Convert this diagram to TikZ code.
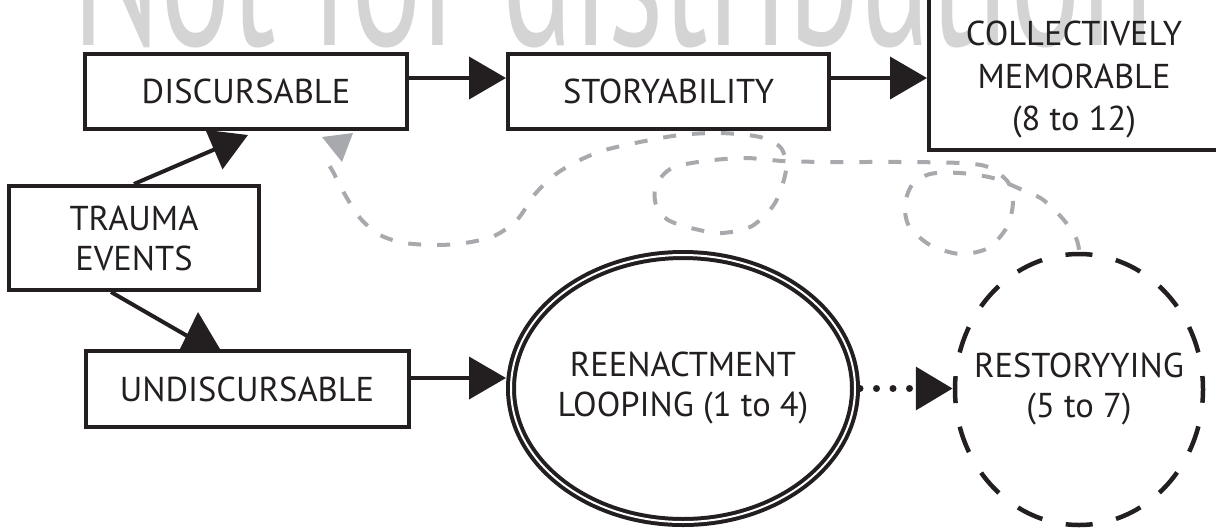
\documentclass[tikz,border=0pt]{standalone}
\usepackage{graphicx}
\usepackage{fontspec}
\setmainfont{PT Sans}
\usetikzlibrary{arrows.meta,shapes.geometric}
\definecolor{ink}{HTML}{231F20}
\definecolor{curvegray}{HTML}{A7A9AC}
\definecolor{wmgray}{HTML}{D4D4D4}
\newcommand\labfont{\fontsize{34.5}{40}\selectfont}
\newcommand\collfont{\fontsize{34.5}{42.5}\selectfont}
\newcommand\zw[1]{\makebox[0pt]{#1}}
\begin{document}
\begin{tikzpicture}[x=1pt,y=-1pt,
  stepbox/.style={draw=ink, line width=4pt, rectangle, inner sep=0pt, align=center, text=ink, font=\labfont},
  loopnode/.style={draw=ink, ellipse, line width=4pt, double=white, double distance=2pt, outer sep=5pt, inner sep=0pt, align=center, text=ink, font=\labfont},
  restnode/.style={draw=ink, ellipse, line width=4.5pt, dash pattern=on 27pt off 24pt, dash phase=13.5pt, inner sep=0pt, align=center, text=ink, font=\labfont},
  flow/.style={draw=ink, line width=4pt, -{Triangle[length=37pt,width=42pt]}},
  dotflow/.style={draw=ink, line width=7pt, line cap=round, dash pattern=on 0pt off 16.5pt, -{Triangle[length=37pt,width=42pt]}},
  backflow/.style={draw=curvegray, line width=4pt, dash pattern=on 13pt off 16pt},
  labeltext/.style={font=\collfont, text=ink, align=center, inner sep=0pt},
]
\useasboundingbox (0,0) rectangle (1216,531);
\clip (0,0) rectangle (1216,531);
% watermark
\node[anchor=base west, inner sep=0pt, text=wmgray] (wm) at (72,45) {\resizebox{1080pt}{150pt}{Not for distribution}};

% nodes
\node[stepbox, minimum width=322pt, minimum height=75pt] (disc) at (246,91.5) {DISCURSABLE};
\node[stepbox, minimum width=321pt, minimum height=75pt] (story) at (668.5,91.5) {STORYABILITY};
\node[stepbox, minimum width=250pt, minimum height=104pt] (trauma) at (134,238) {TRAUMA\\EVENTS};
\node[stepbox, minimum width=323pt, minimum height=76pt] (undisc) at (247,389) {UNDISCURSABLE};
\node[loopnode, minimum width=344pt, minimum height=267pt] (reen) at (683,388.5) {\zw{REENACTMENT}\\\zw{LOOPING (1 to 4)}};
\node[restnode, minimum width=248pt, minimum height=271pt] (rest) at (1079,389.5) {\zw{RESTORYYING}\\\zw{(5 to 7)}};
\node[draw=ink, line width=4pt, rectangle, anchor=south west, minimum width=320pt, minimum height=220pt] (coll) at (927,152) {};
\node[labeltext] (colltext) at (1074,80) {COLLECTIVELY\\MEMORABLE\\(8 to 12)};

% gray return path
\fill[curvegray] (322,137) -- (353,133) -- (342,162) -- cycle;
\draw[backflow] plot[smooth, tension=0.5] coordinates {([yshift=2pt]rest.north) (1076,238) (1063,219) (1042,199) (1018,188) (993,178) (960,173) (930,174) (912,185) (905,205) (909,226) (930,245) (960,254) (988,248) (1007,227) (1013,202) (1008,182) (988,167) (960,163) (900,162) (830,162) (783,161) (745,158) (705,161) (672,168) (656,185) (656,205) (668,220) (695,229) (722,233) (752,226) (775,203) (786,170) (781,148) (760,137) (720,133) (680,135) (640,142) (605,150) (580,160) (556,174) (535,194) (517,220) (494,236) (465,243) (437,245) (405,243) (380,235) (360,218) (344,193) (332,170) (323,157)};

% connectors
\coordinate (a0) at ([yshift=13.5pt]disc.east);
\draw[flow] (a0) -- (a0 -| story.west);
\coordinate (a1) at ([yshift=13.5pt]story.east);
\draw[flow] (a1) -- (a1 -| coll.west);
\coordinate (a2) at ([yshift=11pt]undisc.east);
\draw[flow] (a2) -- (a2 -| reen.west);
\coordinate (tdtip) at (248,135);
\draw[flow] (trauma.north) -- (tdtip);
\coordinate (tuend) at (196,341);
\draw[draw=ink, line width=4pt] ([xshift=-23pt]trauma.south) -- (tuend);
\fill[ink] (198,312) -- (180,349) -- (220,349) -- cycle;
\draw[dotflow] (reen.east) -- (reen.east -| rest.west);
\end{tikzpicture}
\end{document}
